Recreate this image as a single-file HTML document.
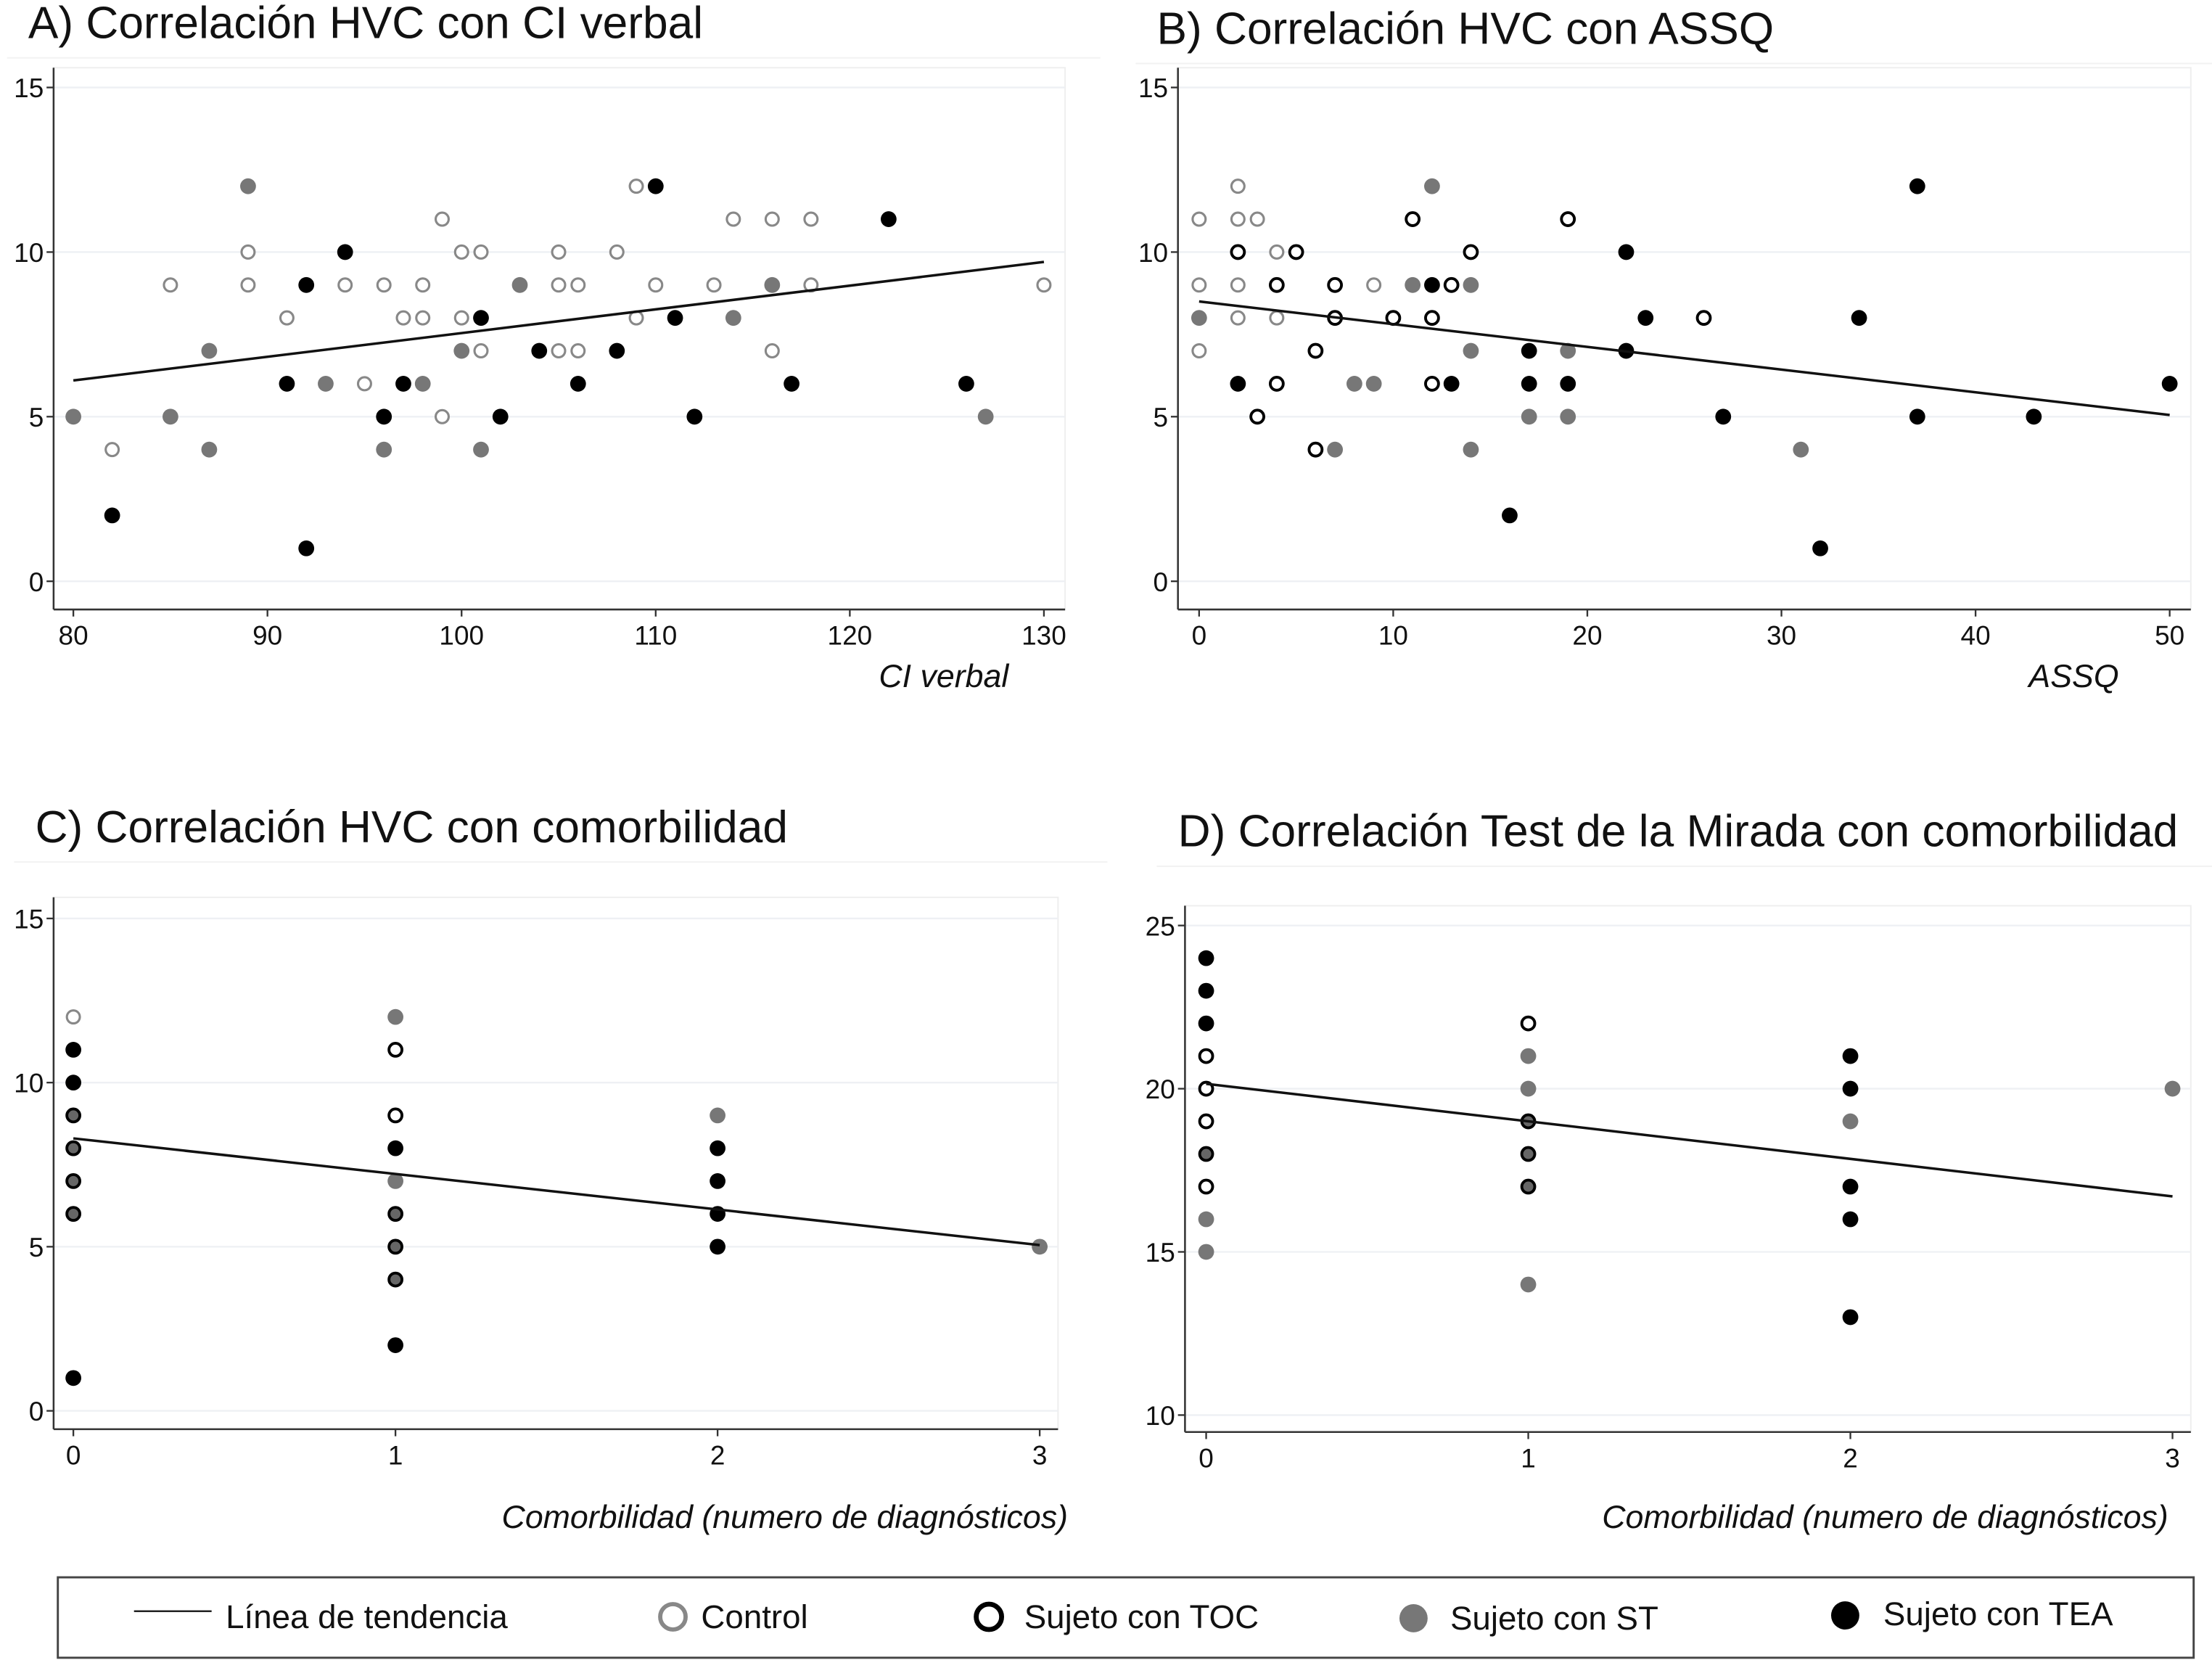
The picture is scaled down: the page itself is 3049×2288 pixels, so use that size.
<!DOCTYPE html>
<html><head><meta charset="utf-8"><style>
html,body{margin:0;padding:0;background:#fff}
svg{display:block}
text{font-family:"Liberation Sans",sans-serif;fill:#111}
</style></head><body>
<svg id="c" width="3049" height="2288" viewBox="0 0 1568 1176.6" preserveAspectRatio="none" xmlns="http://www.w3.org/2000/svg">
<rect width="1568" height="1177" fill="#fff"/>
<g id="legend">
<rect x="41" y="1118" width="1514" height="57" fill="none" stroke="#444" stroke-width="1.5"/>
<line x1="95" y1="1142" x2="150" y2="1142" stroke="#222" stroke-width="1.3"/>
<text x="160" y="1154" font-size="23.5">Línea de tendencia</text>
<circle cx="477" cy="1146" r="9" fill="#fff" stroke="#888" stroke-width="3"/>
<text x="497" y="1154" font-size="23.5">Control</text>
<circle cx="701" cy="1146" r="9" fill="#fff" stroke="#000" stroke-width="3.5"/>
<text x="726" y="1154" font-size="23.5">Sujeto con TOC</text>
<circle cx="1002" cy="1147" r="10" fill="#777"/>
<text x="1028" y="1155" font-size="23.5">Sujeto con ST</text>
<circle cx="1308" cy="1145" r="10" fill="#000"/>
<text x="1335" y="1152" font-size="23.5">Sujeto con TEA</text>
</g>
</svg>
<script>
// Panel A
const aX=[80,85,87,87,89,93,96,98,100,101,103,114,116,127, 82,91,92,92,94,96,97,101,102,104,106,108,110,111,112,117,122,126, 82,85,89,89,91,94,95,96,97,98,98,99,99,100,100,101,101,105,105,105,106,106,108,109,109,110,113,114,116,116,118,118,130];
const aY=[5,5,7,4,12,6,4,6,7,4,9,8,9,5, 2,6,9,1,10,5,6,8,5,7,6,7,12,8,5,6,11,6, 4,9,10,9,8,9,6,9,8,9,8,11,5,10,8,10,7,10,9,7,9,7,10,12,8,9,9,11,11,7,11,9,9];
const aT=["st","st","st","st","st","st","st","st","st","st","st","st","st","st","tea","tea","tea","tea","tea","tea","tea","tea","tea","tea","tea","tea","tea","tea","tea","tea","tea","tea","ctl","ctl","ctl","ctl","ctl","ctl","ctl","ctl","ctl","ctl","ctl","ctl","ctl","ctl","ctl","ctl","ctl","ctl","ctl","ctl","ctl","ctl","ctl","ctl","ctl","ctl","ctl","ctl","ctl","ctl","ctl","ctl","ctl"];
const aTrend=[6.1,9.7];
const aXTicks=[80,90,100,110,120,130];
const aYTicks=[0,5,10,15];
// Panel B
const bX=[0,0,0,2,2,3,2,2,4,4,9, 2,4,5,7,7,6,4,3,6,10,11,12,12,13,14,19,26, 0,7,8,9,11,12,14,14,14,17,19,19,31, 2,12,13,16,17,17,19,22,22,23,27,32,34,37,37,43,50];
const bY=[11,9,7,12,11,11,9,8,10,8,9, 10,9,10,9,8,7,6,5,4,8,11,8,6,9,10,11,8, 8,4,6,6,9,12,9,7,4,5,7,5,4, 6,9,6,2,7,6,6,10,7,8,5,1,8,12,5,5,6];
const bT=["ctl","ctl","ctl","ctl","ctl","ctl","ctl","ctl","ctl","ctl","ctl","toc","toc","toc","toc","toc","toc","toc","toc","toc","toc","toc","toc","toc","toc","toc","toc","toc","st","st","st","st","st","st","st","st","st","st","st","st","st","tea","tea","tea","tea","tea","tea","tea","tea","tea","tea","tea","tea","tea","tea","tea","tea","tea"];
const bTrend=[8.5,5.05];
const bXTicks=[0,10,20,30,40,50];
const bYTicks=[0,5,10,15];
// Panel C
const cX=[0,0,0,0,0,0,0,0, 1,1,1,1,1,1,1,1,1, 2,2,2,2,2, 3];
const cY=[12,11,10,9,8,7,6,1, 12,11,9,8,7,6,5,4,2, 9,8,7,6,5, 5];
const cT=["ctl","tea","tea","mix","mix","mix","mix","tea","st","toc","toc","tea","st","mix","mix","mix","tea","st","tea","tea","tea","tea","st"];
const cTrend=[8.3,5.05];
const cXTicks=[0,1,2,3];
const cYTicks=[0,5,10,15];
// Panel D
const dX=[0,0,0,0,0,0,0,0,0,0, 1,1,1,1,1,1,1, 2,2,2,2,2,2, 3];
const dY=[24,23,22,21,20,19,18,17,16,15, 22,21,20,19,18,17,14, 21,20,19,17,16,13, 20];
const dT=["tea","tea","tea","toc","toc","toc","mix","toc","st","st","toc","st","st","mix","mix","mix","st","tea","tea","st","tea","tea","tea","st"];
const dTrend=[20.15,16.7];
const dXTicks=[0,1,2,3];
const dYTicks=[10,15,20,25];

const NS="http://www.w3.org/2000/svg";
const svg=document.getElementById('c');
function mk(tag,attrs,parent){const e=document.createElementNS(NS,tag);for(const k in attrs)e.setAttribute(k,attrs[k]);parent.appendChild(e);return e;}

function panel(cfg,xs,ys,ts,trend,xt,yt){
  const g=mk('g',{},svg);
  
  
  const sx=v=>cfg.x0+(v-xt[0])/(xt[xt.length-1]-xt[0])*(cfg.x1-cfg.x0);
  const sy=v=>cfg.y0+(v-yt[0])/(yt[yt.length-1]-yt[0])*(cfg.y1-cfg.y0);
  const t=mk('text',{x:cfg.tx,y:cfg.ty,'font-size':32},g);t.textContent=cfg.title;
  
  
  mk('line',{x1:cfg.tx-15,x2:cfg.tx+760,y1:cfg.ty+14,y2:cfg.ty+14,stroke:'#f2f2f2','stroke-width':1},g);
  mk('rect',{x:cfg.ax,y:cfg.top,width:cfg.right-cfg.ax,height:cfg.bot-cfg.top,fill:'none',stroke:'#eee','stroke-width':1},g);
  yt.forEach(v=>{
    mk('line',{x1:cfg.ax,x2:cfg.right,y1:sy(v),y2:sy(v),stroke:'#eef0f4','stroke-width':1.2},g);
    mk('line',{x1:cfg.ax-5,x2:cfg.ax,y1:sy(v),y2:sy(v),stroke:'#333','stroke-width':1.2},g);
    const l=mk('text',{x:cfg.ax-7,y:sy(v)+7,'font-size':19,'text-anchor':'end'},g);l.textContent=v;
    
    
  });
  xt.forEach(v=>{
    mk('line',{x1:sx(v),x2:sx(v),y1:cfg.bot,y2:cfg.bot+5,stroke:'#333','stroke-width':1.2},g);
    const l=mk('text',{x:sx(v),y:cfg.bot+25,'font-size':19,'text-anchor':'middle'},g);l.textContent=v;
    
    
  });
  mk('line',{x1:cfg.ax,x2:cfg.ax,y1:cfg.top,y2:cfg.bot,stroke:'#333','stroke-width':1.3},g);
  mk('line',{x1:cfg.ax,x2:cfg.right,y1:cfg.bot,y2:cfg.bot,stroke:'#333','stroke-width':1.3},g);
  const xl=mk('text',{x:cfg.xlx,y:cfg.xly,'font-size':23,'font-style':'italic','text-anchor':'end'},g);xl.textContent=cfg.xlabel;
  
  
  for(let i=0;i<xs.length;i++){
    const tp=ts[i];let a;
    if(tp==='ctl')a={fill:'#fff',stroke:'#888','stroke-width':1.6,r:4.6};
    else if(tp==='toc')a={fill:'#fff',stroke:'#000','stroke-width':2,r:4.6};
    else if(tp==='st')a={fill:'#777',stroke:'none',r:5.6};
    else if(tp==='mix')a={fill:'#666',stroke:'#000','stroke-width':2,r:4.6};
    else a={fill:'#000',stroke:'none',r:5.6};
    a.cx=sx(xs[i]);a.cy=sy(ys[i]);
    const c=mk('circle',a,g);
    
    
  }
  const tl=mk('line',{x1:sx(xt[0]),x2:sx(xt[xt.length-1]),y1:sy(trend[0]),y2:sy(trend[1]),stroke:'#111','stroke-width':1.8},g);
  
  
}
panel({name:'panel-a',title:'A) Correlación HVC con CI verbal',tx:20,ty:27,ax:38,top:48,right:755,bot:432,x0:52,x1:740,y0:412,y1:62,xlabel:'CI verbal',xlx:715,xly:487},aX,aY,aT,aTrend,aXTicks,aYTicks);
panel({name:'panel-b',title:'B) Correlación HVC con ASSQ',tx:820,ty:31,ax:835,top:48,right:1553,bot:432,x0:850,x1:1538,y0:412,y1:62,xlabel:'ASSQ',xlx:1502,xly:487},bX,bY,bT,bTrend,bXTicks,bYTicks);
panel({name:'panel-c',title:'C) Correlación HVC con comorbilidad',tx:25,ty:597,ax:38,top:636,right:750,bot:1013,x0:52,x1:737,y0:1000,y1:651,xlabel:'Comorbilidad (numero de diagnósticos)',xlx:757,xly:1083},cX,cY,cT,cTrend,cXTicks,cYTicks);
panel({name:'panel-d',title:'D) Correlación Test de la Mirada con comorbilidad',tx:835,ty:600,ax:840,top:642,right:1553,bot:1015,x0:855,x1:1540,y0:1003,y1:656,xlabel:'Comorbilidad (numero de diagnósticos)',xlx:1537,xly:1083},dX,dY,dT,dTrend,dXTicks,dYTicks);
</script>
</body></html>
